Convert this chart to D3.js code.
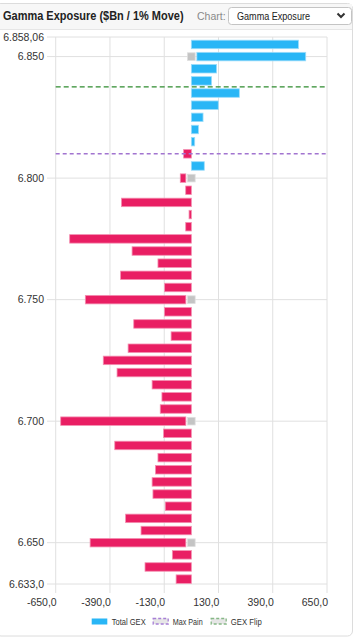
<!DOCTYPE html>
<html><head><meta charset="utf-8">
<script src="https://cdn.jsdelivr.net/npm/d3@7/dist/d3.min.js"></script>
<style>
html,body{margin:0;padding:0;background:#fff;}
svg{display:block;font-family:"Liberation Sans",Arial,sans-serif;}
</style></head>
<body>
<svg id="c" width="355" height="638"></svg>
<script>
// ---- data ----
const strikes = [6855,6850,6845,6840,6835,6830,6825,6820,6815,6810,6805,6800,6795,6790,6785,6780,6775,6770,6765,6760,6755,6750,6745,6740,6735,6730,6725,6720,6715,6710,6705,6700,6695,6690,6685,6680,6675,6670,6665,6660,6655,6650,6645,6640,6635];
const totalGex = [513,548,121,97,230,129,56,34,16,-37,62,-53,-27,-335,-11,-27,-583,-284,-160,-339,-128,-508,-129,-276,-97,-303,-422,-356,-188,-141,-149,-626,-133,-367,-160,-172,-188,-184,-125,-315,-241,-485,-91,-222,-73];
const markerStrikes = [6850,6800,6750,6700,6650];
const maxPain = 6810;
const gexFlip = 6837.5;
const xTicks = [-650,-390,-130,130,390,650];
const yTicks = [6858.06,6850,6800,6750,6700,6650,6633.0];
const yTickLabels = ["6.858,06","6.850","6.800","6.750","6.700","6.650","6.633,0"];
const xTickLabels = ["-650,0","-390,0","-130,0","130,0","390,0","650,0"];
const legendItems = ["Total GEX","Max Pain","GEX Flip"];
const title = "Gamma Exposure ($Bn / 1% Move)";

const svg = d3.select("#c");

// card
svg.append("rect").attr("x",-4).attr("y",3.5).attr("width",356.5).attr("height",632.5)
  .attr("rx",5).attr("fill","#fff").attr("stroke","#dcdcdc");
svg.append("rect").attr("x",-3).attr("y",4).attr("width",355).attr("height",25.5).attr("fill","#f7f7f7");
svg.append("line").attr("x1",-3).attr("x2",352).attr("y1",29.5).attr("y2",29.5).attr("stroke","#e6e6e6");

svg.append("text").attr("transform","translate(3,20) scale(1,1.12)").attr("font-size","11px").attr("font-weight","bold")
  .attr("fill","#222").text(title);
svg.append("text").attr("x",197).attr("y",20).attr("font-size","10.5px").attr("fill","#8a8a8a").text("Chart:");
svg.append("rect").attr("x",228.5).attr("y",7.5).attr("width",123).attr("height",17).attr("rx",3)
  .attr("fill","#fff").attr("stroke","#c4c4c4");
svg.append("text").attr("x",237).attr("y",19.5).attr("font-size","10px").attr("fill","#222")
  .attr("textLength",73).attr("lengthAdjust","spacingAndGlyphs").text("Gamma Exposure");
svg.append("path").attr("d","M337.5,13.5 L341,17 L344.5,13.5").attr("fill","none").attr("stroke","#333").attr("stroke-width",2);

// scales
const x = d3.scaleLinear().domain([-650,650]).range([55.7,327]);
const y = d3.scaleLinear().domain([6633,6858.06]).range([584,37]);

const g = svg.append("g");
// vertical grid
g.selectAll("line.vx").data(xTicks).join("line")
  .attr("x1",d=>x(d)).attr("x2",d=>x(d)).attr("y1",37).attr("y2",593)
  .attr("stroke","#e0e0e0").attr("stroke-width",1);
// horizontal grid
g.selectAll("line.hy").data(yTicks).join("line")
  .attr("x1",47).attr("x2",x(650)).attr("y1",d=>y(d)).attr("y2",d=>y(d))
  .attr("stroke","#e0e0e0").attr("stroke-width",1);

// y labels
g.selectAll("text.yl").data(yTicks).join("text")
  .attr("x",44).attr("y",d=>y(d)).attr("dy","0.35em").attr("text-anchor","end")
  .attr("font-size","10.5px").attr("fill","#333").text((d,i)=>yTickLabels[i]);
// x labels
g.selectAll("text.xl").data(xTicks).join("text")
  .attr("x",d=>x(d)+1).attr("y",606).attr("text-anchor","end")
  .attr("font-size","10.5px").attr("fill","#333").text((d,i)=>xTickLabels[i]);

// bars
const bh = 8.5, gap = 5.5;
const data = strikes.map((s,i)=>({s, v: totalGex[i], m: markerStrikes.includes(s)}));
g.selectAll("rect.bar").data(data).join("rect")
  .attr("x",d=>{ const z = x(0) + (d.m ? (d.v<0?-gap:gap) : 0); return Math.min(z, x(d.v)); })
  .attr("width",d=>{ const z = x(0) + (d.m ? (d.v<0?-gap:gap) : 0); return Math.abs(x(d.v)-z); })
  .attr("y",d=>y(d.s)-bh/2).attr("height",bh)
  .attr("fill",d=>d.v>=0?"#29b6f6":"#e91e63")
  .attr("stroke",d=>d.v>=0?"#9bdcfa":"#f48fb1").attr("stroke-width",0.8);
g.selectAll("rect.mk").data(data.filter(d=>d.m)).join("rect")
  .attr("x",x(0)-3.8).attr("width",7.6).attr("y",d=>y(d.s)-3.8).attr("height",7.6)
  .attr("fill","#c4c4c4").attr("stroke","#dedede").attr("stroke-width",0.8);

// reference lines
g.append("line").attr("x1",x(-650)).attr("x2",x(650)).attr("y1",y(gexFlip)).attr("y2",y(gexFlip))
  .attr("stroke","#2e8b2e").attr("stroke-width",1.3).attr("stroke-dasharray","5,3");
g.append("line").attr("x1",x(-650)).attr("x2",x(650)).attr("y1",y(maxPain)).attr("y2",y(maxPain))
  .attr("stroke","#a274d0").attr("stroke-width",1.5).attr("stroke-dasharray","4,3");

// legend
const lg = svg.append("g");
const lx = [91.7,152.7,210.7], tw = [34,30,31];
lg.append("rect").attr("x",lx[0]).attr("y",618.5).attr("width",15.6).attr("height",6).attr("fill","#29b6f6");
lg.append("rect").attr("x",lx[1]+0.5).attr("y",618.5).attr("width",15).attr("height",5.5).attr("fill","#e6e6e6")
  .attr("stroke","#a77fd6").attr("stroke-width",1.3).attr("stroke-dasharray","3,2");
lg.append("rect").attr("x",lx[2]+0.5).attr("y",618.5).attr("width",15).attr("height",5.5).attr("fill","#e6e6e6")
  .attr("stroke","#86b886").attr("stroke-width",1.3).attr("stroke-dasharray","3,2");
lg.selectAll("text").data(legendItems).join("text")
  .attr("x",(d,i)=>lx[i]+20).attr("y",624.5).attr("font-size","9px").attr("fill","#333")
  .attr("textLength",(d,i)=>tw[i]).attr("lengthAdjust","spacingAndGlyphs").text(d=>d);
</script>
</body></html>
